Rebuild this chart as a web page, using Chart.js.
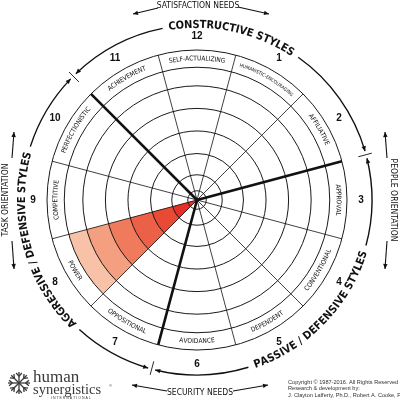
<!DOCTYPE html>
<html>
<head>
<meta charset="utf-8">
<script src="https://cdn.jsdelivr.net/npm/chart.js@4/dist/chart.umd.min.js"></script>
<style>
  html, body { margin: 0; padding: 0; background: #fff; }
  #wrap { width: 400px; height: 400px; }
</style>
</head>
<body>
<div id="wrap"><canvas id="circumplex" width="400" height="400"></canvas></div>
<script>
// ===== DATA =====
const styleNames = ["SELF-ACTUALIZING", "HUMANISTIC-ENCOURAGING", "AFFILIATIVE", "APPROVAL",
    "CONVENTIONAL", "DEPENDENT", "AVOIDANCE", "OPPOSITIONAL",
    "POWER", "COMPETITIVE", "PERFECTIONISTIC", "ACHIEVEMENT"];
const clockNumbers = ["12", "1", "2", "3", "4", "5", "6", "7", "8", "9", "10", "11"];
const ringLevels = [7, 19, 35, 52, 69, 86, 100];   // concentric circles
const bandEdge = 113;                              // outer edge of the name band
const powerLevels = [19, 35, 52, 69, 86, 100];     // shaded bands of POWER (style 8)
const powerColors = ["#e5302a", "#e94a35", "#ec6047", "#ef7b5c", "#f4a080", "#f8c2a8"];
const clusterNames = ["CONSTRUCTIVE STYLES", "PASSIVE / DEFENSIVE STYLES", "AGGRESSIVE / DEFENSIVE STYLES"];
const clusterCenters = [372, 134, 255];            // degrees, clockwise from top
const clusterBorders = [315, 75, 195];             // thick dividing spokes
const thickSpokes = [11, 3, 7];

const NARROW = '"Liberation Sans Narrow", "DejaVu Sans Condensed", "Liberation Sans", sans-serif';
const rad = d => d * Math.PI / 180;

// ===== HELPERS =====
function arcText(ctx, text, cx, cy, r, centerDeg, cw, font) {
    ctx.save();
    ctx.font = font;
    ctx.textAlign = "center";
    ctx.textBaseline = "middle";
    const widths = [...text].map(c => ctx.measureText(c).width);
    const total = widths.reduce((a, b) => a + b, 0);
    const dir = cw ? 1 : -1;
    let a = rad(centerDeg) - dir * total / 2 / r;
    widths.forEach((w, i) => {
        const ac = a + dir * (w / 2) / r;
        ctx.save();
        ctx.translate(cx + r * Math.sin(ac), cy - r * Math.cos(ac));
        ctx.rotate(cw ? ac : ac + Math.PI);
        ctx.fillText(text[i], 0, 0);
        ctx.restore();
        a += dir * w / r;
    });
    ctx.restore();
    return total / r * 180 / Math.PI;
}

function arrowHead(ctx, x, y, dx, dy, size) {
    const len = Math.hypot(dx, dy);
    const ux = dx / len, uy = dy / len;
    ctx.beginPath();
    ctx.moveTo(x, y);
    ctx.lineTo(x - ux * size - uy * size * 0.45, y - uy * size + ux * size * 0.45);
    ctx.lineTo(x - ux * size + uy * size * 0.45, y - uy * size - ux * size * 0.45);
    ctx.closePath();
    ctx.fill();
}

function arrowLine(ctx, x1, y1, x2, y2) {
    ctx.beginPath();
    ctx.moveTo(x1, y1);
    ctx.lineTo(x2, y2);
    ctx.stroke();
    arrowHead(ctx, x2, y2, x2 - x1, y2 - y1, 5);
}

function clusterArc(ctx, cx, cy, r, fromDeg, toDeg, headAtEnd, headAtStart) {
    ctx.beginPath();
    ctx.arc(cx, cy, r, rad(fromDeg - 90), rad(toDeg - 90));
    ctx.stroke();
    if (headAtEnd) {
        const a = rad(toDeg);
        arrowHead(ctx, cx + r * Math.sin(a), cy - r * Math.cos(a), Math.cos(a), Math.sin(a), 5);
    }
    if (headAtStart) {
        const a = rad(fromDeg);
        arrowHead(ctx, cx + r * Math.sin(a), cy - r * Math.cos(a), -Math.cos(a), -Math.sin(a), 5);
    }
}

function drawLogo(ctx, x, y, s) {
    ctx.save();
    ctx.strokeStyle = "#3a3a3a";
    ctx.lineWidth = 1.3;
    for (let k = 0; k < 8; k++) {
        const a = rad(k * 45);
        const ex = x + s * Math.sin(a), ey = y - s * Math.cos(a);
        ctx.beginPath();
        ctx.moveTo(x, y);
        ctx.lineTo(ex, ey);
        ctx.stroke();
        const bx = x + s * 0.6 * Math.sin(a), by = y - s * 0.6 * Math.cos(a);
        [-1, 1].forEach(side => {
            const b = a + side * rad(40);
            ctx.beginPath();
            ctx.moveTo(bx, by);
            ctx.lineTo(bx + s * 0.4 * Math.sin(b), by - s * 0.4 * Math.cos(b));
            ctx.stroke();
        });
    }
    ctx.restore();
    ctx.save();
    ctx.fillStyle = "#3a3a3a";
    ctx.textBaseline = "alphabetic";
    ctx.font = '17px "Liberation Serif", "DejaVu Serif", serif';
    ctx.fillText("human", x + 14, y - 1);
    ctx.font = '14.5px "Liberation Serif", "DejaVu Serif", serif';
    ctx.fillText("synergistics", x + 14, y + 11);
    ctx.font = '4px "Liberation Sans", sans-serif';
    ctx.fillText("®", x + 90, y + 4);
    ctx.font = '3.5px "Liberation Sans", sans-serif';
    ctx.fillText("I N T E R N A T I O N A L", x + 32, y + 16);
    ctx.restore();
}

// ===== DECORATION PLUGIN =====
const decorations = {
    id: "decorations",
    afterDraw(chart) {
        const ctx = chart.ctx;
        const scale = chart.scales.r;
        const cx = scale.xCenter, cy = scale.yCenter;
        const bandMid = (scale.getDistanceFromCenterForValue(100) + scale.getDistanceFromCenterForValue(bandEdge)) / 2;
        const R = scale.drawingArea;
        ctx.fillStyle = "#111";

        // style names in the band
        styleNames.forEach((name, i) => {
            const cw = i < 4 || i > 8;
            const size = name.length > 18 ? 4.8 : 6.6;
            arcText(ctx, name, cx, cy, bandMid, i * 30, cw, size + "px " + NARROW);
        });

        // clock numbers
        ctx.save();
        ctx.font = 'bold 10px "Liberation Sans", sans-serif';
        ctx.textAlign = "center";
        ctx.textBaseline = "middle";
        clockNumbers.forEach((n, i) => {
            const a = rad(i * 30);
            ctx.fillText(n, cx + (R + 14) * Math.sin(a), cy - (R + 14) * Math.cos(a));
        });
        ctx.restore();

        // cluster arcs
        const rc = R + 25;
        ctx.save();
        ctx.strokeStyle = "#111";
        ctx.lineWidth = 1.4;
        clusterNames.forEach((name, k) => {
            const cw = k !== 1;
            const span = arcText(ctx, name, cx, cy, rc, clusterCenters[k], cw, "bold 11px " + NARROW);
            const start = clusterBorders[k];
            const end = start + 120;
            const centre = clusterCenters[k];
            clusterArc(ctx, cx, cy, rc, start + 1.2, centre - span / 2 - 2, false, true);
            clusterArc(ctx, cx, cy, rc, centre + span / 2 + 2, end - 1.2, true, false);
        });
        clusterBorders.forEach(d => {
            const a = rad(d);
            ctx.beginPath();
            ctx.lineWidth = 0.9;
            ctx.moveTo(cx + (rc - 8) * Math.sin(a), cy - (rc - 8) * Math.cos(a));
            ctx.lineTo(cx + (rc + 6) * Math.sin(a), cy - (rc + 6) * Math.cos(a));
            ctx.stroke();
        });
        ctx.restore();

        // outer needs / orientation labels
        ctx.save();
        ctx.strokeStyle = "#111";
        ctx.lineWidth = 1.1;
        ctx.font = "8.5px " + NARROW;
        ctx.textAlign = "center";
        ctx.textBaseline = "middle";
        ctx.fillText("SATISFACTION NEEDS", 198, 6);
        arrowLine(ctx, 158, 8, 133, 14);
        arrowLine(ctx, 238, 7, 269, 14);
        ctx.fillText("SECURITY NEEDS", 200, 393);
        arrowLine(ctx, 167, 391, 132, 385);
        arrowLine(ctx, 233, 391, 268, 385);
        ctx.save();
        ctx.translate(393, 200);
        ctx.rotate(Math.PI / 2);
        ctx.fillText("PEOPLE ORIENTATION", 0, 0);
        ctx.restore();
        arrowLine(ctx, 387, 158, 385, 132);
        arrowLine(ctx, 387, 241, 385, 269);
        ctx.save();
        ctx.translate(6, 200);
        ctx.rotate(-Math.PI / 2);
        ctx.fillText("TASK ORIENTATION", 0, 0);
        ctx.restore();
        arrowLine(ctx, 12, 158, 14, 132);
        arrowLine(ctx, 12, 241, 14, 269);
        ctx.restore();

        // logo and copyright
        drawLogo(ctx, 19, 383, 11);
        ctx.save();
        ctx.fillStyle = "#333";
        ctx.font = '5.6px "Liberation Sans", sans-serif';
        ctx.fillText("Copyright © 1987-2016. All Rights Reserved", 288, 384);
        ctx.fillText("Research & development by:", 288, 390);
        ctx.fillText("J. Clayton Lafferty, Ph.D., Robert A. Cooke, Ph.D.", 288, 397);
        ctx.restore();
    }
};

// ===== CHART =====
const datasets = powerLevels.map((level, k) => ({
    data: styleNames.map((s, i) => (s === "POWER" ? level : 0)),
    backgroundColor: powerColors[k],
    borderWidth: 0
}));

new Chart(document.getElementById("circumplex"), {
    type: "polarArea",
    data: { labels: styleNames, datasets: datasets },
    options: {
        responsive: false,
        animation: false,
        events: [],
        layout: { padding: { left: 47, right: 53, top: 50, bottom: 50 } },
        plugins: { legend: { display: false }, tooltip: { enabled: false } },
        scales: {
            r: {
                min: 0,
                max: bandEdge,
                startAngle: -15,
                afterBuildTicks: scale => {
                    scale.ticks = [0, ...ringLevels, bandEdge].map(v => ({ value: v }));
                },
                ticks: { display: false },
                pointLabels: { display: false },
                grid: { circular: true, color: "#1a1a1a", lineWidth: 1, z: 1 },
                angleLines: {
                    display: true,
                    color: "#111",
                    lineWidth: ctx => (thickSpokes.includes(ctx.index) ? 2.6 : 0.8)
                }
            }
        }
    },
    plugins: [decorations]
});
</script>
</body>
</html>
